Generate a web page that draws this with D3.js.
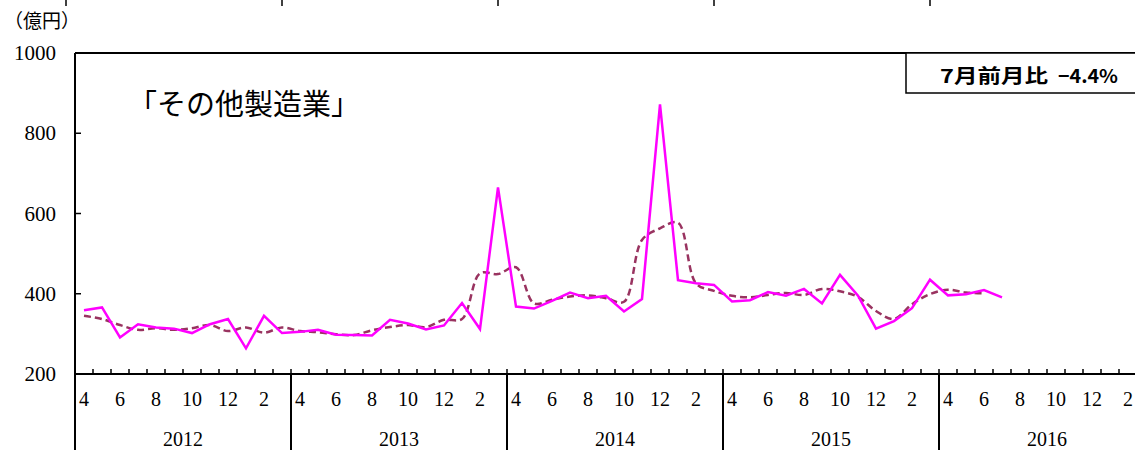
<!DOCTYPE html>
<html>
<head>
<meta charset="utf-8">
<script src="https://cdn.jsdelivr.net/npm/d3@7"></script>
<style>
  body { margin: 0; background: #fff; }
  svg { display: block; }
  .serif { font-family: "Liberation Serif", "DejaVu Serif", "Noto Sans CJK JP", serif; }
</style>
</head>
<body>
<div id="chart"></div>
<script>
// months run Apr 2012 .. Mar 2017, data to Jul 2016
var years = ["2012", "2013", "2014", "2015", "2016"];
var monthTicks = ["4", "6", "8", "10", "12", "2"];
var actual = [359, 366, 291, 324, 316, 313, 302, 324, 337, 264, 345, 302,
  305, 310, 298, 297, 296, 335, 326, 311, 321, 377, 312, 665,
  368, 363, 382, 403, 389, 395, 356, 387, 872, 434, 426, 422,
  381, 384, 404, 395, 412, 376, 447, 395, 313, 332, 364, 435,
  396, 399, 409, 391];
var trend = [345, 337, 322, 310, 314, 310, 314, 322, 307, 316, 303, 316,
  307, 304, 299, 297, 309, 317, 322, 317, 335, 337, 451, 449,
  466, 376, 385, 393, 396, 389, 380, 534, 563, 577, 426, 407,
  395, 391, 397, 402, 397, 412, 406, 392, 357, 337, 374, 399,
  410, 403, 401];
var yTicks = [200, 400, 600, 800, 1000];
var title = "「その他製造業」";
var boxLabel = "7月前月比";
var boxValue = "−4.4%";

var svgWidth = 1135, svgHeight = 450;
var plotLeft = 75, plotTop = 53, plotBottom = 374;
var nMonths = years.length * 12;

var svg = d3.select("#chart").append("svg")
  .attr("width", svgWidth)
  .attr("height", svgHeight);

var x = d3.scaleLinear().domain([0, nMonths]).range([plotLeft, plotLeft + nMonths * 18]);
var y = d3.scaleLinear().domain([200, 1000]).range([plotBottom, plotTop]);

// leftovers of the chart above
svg.append("g").selectAll("line").data(d3.range(5)).enter().append("line")
  .attr("x1", d => x(d * 12) - 9).attr("x2", d => x(d * 12) - 9)
  .attr("y1", 0).attr("y2", 6)
  .attr("stroke", "#000").attr("stroke-width", 1.5);

// unit
svg.append("text").attr("class", "serif")
  .attr("x", 4).attr("y", 28)
  .attr("font-size", 19)
  .text("（億円）");

// y labels
svg.append("g").selectAll("text").data(yTicks).enter().append("text")
  .attr("class", "serif")
  .attr("x", 56).attr("y", d => y(d) + 7)
  .attr("text-anchor", "end")
  .attr("font-size", 21)
  .text(d => d);

// inner y ticks
svg.append("g").selectAll("line").data(yTicks.slice(1, 4)).enter().append("line")
  .attr("x1", plotLeft).attr("x2", plotLeft + 6)
  .attr("y1", d => y(d)).attr("y2", d => y(d))
  .attr("stroke", "#000").attr("stroke-width", 1.5);

// month ticks pointing up
svg.append("g").selectAll("line").data(d3.range(nMonths + 1)).enter().append("line")
  .attr("x1", d => x(d)).attr("x2", d => x(d))
  .attr("y1", plotBottom).attr("y2", plotBottom - 5)
  .attr("stroke", "#000").attr("stroke-width", 1.5);

// frame: top, bottom
svg.append("line").attr("x1", plotLeft).attr("x2", svgWidth).attr("y1", plotTop).attr("y2", plotTop)
  .attr("stroke", "#000").attr("stroke-width", 2);
svg.append("line").attr("x1", plotLeft).attr("x2", svgWidth).attr("y1", plotBottom).attr("y2", plotBottom)
  .attr("stroke", "#000").attr("stroke-width", 2);

// left axis + year separators
svg.append("g").selectAll("line").data(d3.range(years.length + 1)).enter().append("line")
  .attr("x1", d => x(d * 12)).attr("x2", d => x(d * 12))
  .attr("y1", d => d == 0 ? plotTop : plotBottom).attr("y2", svgHeight)
  .attr("stroke", "#000").attr("stroke-width", 2);

// month labels
var mLabels = [];
years.forEach(function(yr, yi) {
  monthTicks.forEach(function(m, mi) {
    mLabels.push({ i: yi * 12 + mi * 2, t: m });
  });
});
svg.append("g").selectAll("text").data(mLabels).enter().append("text")
  .attr("class", "serif")
  .attr("x", d => x(d.i + 0.5)).attr("y", 406)
  .attr("text-anchor", "middle")
  .attr("font-size", 20)
  .text(d => d.t);

svg.append("g").selectAll("text").data(years).enter().append("text")
  .attr("class", "serif")
  .attr("x", (d, i) => x(i * 12 + 6)).attr("y", 446)
  .attr("text-anchor", "middle")
  .attr("font-size", 20)
  .text(d => d);

// lines
var trendLine = d3.line()
  .x((d, i) => x(i + 0.5)).y(d => y(d))
  .curve(d3.curveCatmullRom);
var actualLine = d3.line()
  .x((d, i) => x(i + 0.5)).y(d => y(d));

svg.append("path").datum(trend)
  .attr("d", trendLine)
  .attr("fill", "none")
  .attr("stroke", "#993360")
  .attr("stroke-width", 2.5)
  .attr("stroke-dasharray", "7,4");

svg.append("path").datum(actual)
  .attr("d", actualLine)
  .attr("fill", "none")
  .attr("stroke", "#ff00ff")
  .attr("stroke-width", 2.5);

// title
svg.append("text").attr("class", "serif")
  .attr("x", 128).attr("y", 115)
  .attr("font-size", 29)
  .text(title);

// ratio box
svg.append("rect")
  .attr("x", 906).attr("y", plotTop)
  .attr("width", 260).attr("height", 40)
  .attr("fill", "#fff").attr("stroke", "#000").attr("stroke-width", 1.5);
svg.append("text")
  .attr("x", 940).attr("y", 83)
  .attr("font-family", "'Noto Sans CJK JP', sans-serif")
  .attr("font-weight", "bold")
  .attr("font-size", 19)
  .attr("textLength", 108)
  .attr("lengthAdjust", "spacingAndGlyphs")
  .text(boxLabel);
svg.append("text")
  .attr("x", 1058).attr("y", 83)
  .attr("font-family", "'Noto Sans CJK JP', sans-serif")
  .attr("font-weight", "bold")
  .attr("font-size", 19)
  .attr("textLength", 60)
  .attr("lengthAdjust", "spacingAndGlyphs")
  .text(boxValue);
</script>
</body>
</html>
